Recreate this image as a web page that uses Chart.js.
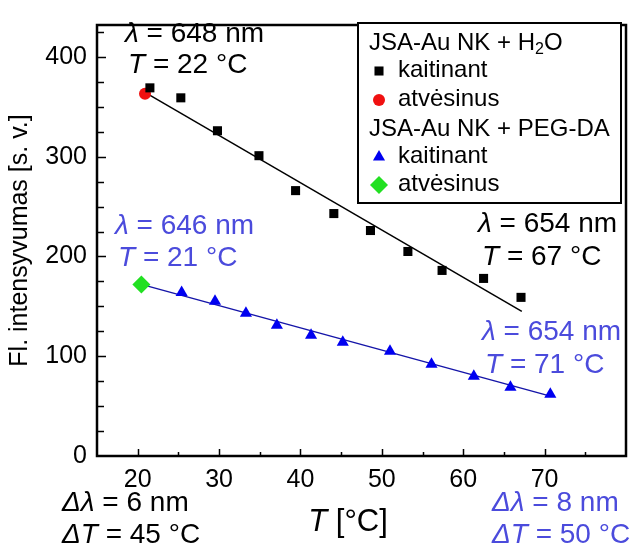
<!DOCTYPE html>
<html>
<head>
<meta charset="utf-8">
<script src="https://cdn.jsdelivr.net/npm/chart.js@4.4.1/dist/chart.umd.min.js"></script>
<style>
  html, body { margin: 0; padding: 0; background: #fff; }
  canvas { display: block; }
</style>
</head>
<body>
<canvas id="plot" width="635" height="546"></canvas>
<script>
const FONT = "'Liberation Sans', Arial, sans-serif";
const BLUE_TEXT = "#4b4bdc";

// JSA-Au NK + H2O
const h2oHeatT = [21.5, 25.3, 29.8, 34.9, 39.4, 44.1, 48.6, 53.2, 57.4, 62.5, 67.1];
const h2oHeatI = [369, 359, 326, 301, 266, 243, 226, 205, 186, 178, 159];
const h2oCoolT = [20.9];
const h2oCoolI = [363];
const h2oFitT = [21.0, 67.2];
const h2oFitI = [364, 145];

// JSA-Au NK + PEG-DA
const pegHeatT = [25.4, 29.5, 33.3, 37.1, 41.3, 45.2, 51.0, 56.1, 61.3, 65.8, 70.7];
const pegHeatI = [164, 155, 143, 131, 121, 114, 105, 92, 80, 69, 62];
const pegCoolT = [20.45];
const pegCoolI = [172];
const pegFitT = [20.9, 70.7];
const pegFitI = [171, 60];

const xTicks = [20, 30, 40, 50, 60, 70];
const yTicks = [0, 100, 200, 300, 400];

function pts(xs, ys) {
  return xs.map((x, i) => ({ x: x, y: ys[i] }));
}

// draw a line of text where some pieces are italic: parts = [[text, italic], ...]
function drawRich(ctx, parts, x, y, size, color, align) {
  ctx.save();
  ctx.fillStyle = color;
  ctx.textBaseline = "middle";
  ctx.textAlign = "left";
  let w = 0;
  parts.forEach(p => {
    ctx.font = (p[1] ? "italic " : "") + size + "px " + FONT;
    w += ctx.measureText(p[0]).width;
  });
  let cx = align === "right" ? x - w : align === "center" ? x - w / 2 : x;
  parts.forEach(p => {
    ctx.font = (p[1] ? "italic " : "") + size + "px " + FONT;
    ctx.fillText(p[0], cx, y);
    cx += ctx.measureText(p[0]).width;
  });
  ctx.restore();
}

const notes = [
  { parts: [["λ", 1], [" = 648 nm", 0]], x: 125, y: 34, color: "#000" },
  { parts: [["T", 1], [" = 22 °C", 0]], x: 128, y: 65, color: "#000" },
  { parts: [["λ", 1], [" = 646 nm", 0]], x: 115, y: 226, color: BLUE_TEXT },
  { parts: [["T", 1], [" = 21 °C", 0]], x: 118, y: 258, color: BLUE_TEXT },
  { parts: [["λ", 1], [" = 654 nm", 0]], x: 478, y: 224, color: "#000" },
  { parts: [["T", 1], [" = 67 °C", 0]], x: 482, y: 257, color: "#000" },
  { parts: [["λ", 1], [" = 654 nm", 0]], x: 482, y: 332, color: BLUE_TEXT },
  { parts: [["T", 1], [" = 71 °C", 0]], x: 485, y: 365, color: BLUE_TEXT },
  { parts: [["Δλ", 1], [" = 6 nm", 0]], x: 62, y: 503, color: "#000" },
  { parts: [["ΔT", 1], [" = 45 °C", 0]], x: 62, y: 535, color: "#000" },
  { parts: [["Δλ", 1], [" = 8 nm", 0]], x: 492, y: 503, color: BLUE_TEXT },
  { parts: [["ΔT", 1], [" = 50 °C", 0]], x: 492, y: 535, color: BLUE_TEXT }
];

// box around the plot with inward ticks
const framePlugin = {
  id: "frame",
  afterDraw(chart) {
    const ctx = chart.ctx;
    const a = chart.chartArea;
    const xs = chart.scales.x, ys = chart.scales.y;
    ctx.save();
    ctx.strokeStyle = "#000";
    ctx.lineWidth = 1.5;
    ctx.beginPath();
    for (let v = 20; v < 80; v += 5) {
      const px = Math.round(xs.getPixelForValue(v)) + 0.5;
      const len = v % 10 === 0 ? 7 : 4;
      ctx.moveTo(px, a.bottom);
      ctx.lineTo(px, a.bottom - len);
    }
    for (let v = 25; v < 432; v += 25) {
      const py = Math.round(ys.getPixelForValue(v)) + 0.5;
      const len = v % 100 === 0 ? 9 : 7;
      ctx.moveTo(a.left, py);
      ctx.lineTo(a.left + len, py);
    }
    ctx.stroke();
    ctx.lineWidth = 2.5;
    ctx.strokeRect(a.left, a.top, a.right - a.left, a.bottom - a.top);
    ctx.restore();
  }
};

const textPlugin = {
  id: "notes",
  afterDraw(chart) {
    const ctx = chart.ctx;
    notes.forEach(n => drawRich(ctx, n.parts, n.x, n.y, 28, n.color, "left"));
    drawRich(ctx, [["T", 1], [" [°C]", 0]], 348, 522, 31, "#000", "center");
  }
};

const legendPlugin = {
  id: "boxLegend",
  afterDraw(chart) {
    const ctx = chart.ctx;
    const ds = chart.data.datasets;
    ctx.save();
    ctx.fillStyle = "#fff";
    ctx.fillRect(358, 23, 263, 180);
    ctx.strokeStyle = "#000";
    ctx.lineWidth = 2;
    ctx.strokeRect(358, 23, 263, 180);
    ctx.fillStyle = "#000";
    ctx.textBaseline = "middle";
    ctx.font = "24px " + FONT;
    ctx.fillText("JSA-Au NK + H", 369, 43);
    let w = ctx.measureText("JSA-Au NK + H").width;
    ctx.font = "16px " + FONT;
    ctx.fillText("2", 369 + w, 50);
    w += ctx.measureText("2").width;
    ctx.font = "24px " + FONT;
    ctx.fillText("O", 369 + w, 43);
    ctx.fillText("JSA-Au NK + PEG-DA", 369, 129);
    const rows = [
      [ds[0], "kaitinant", 70],
      [ds[1], "atvėsinus", 99],
      [ds[3], "kaitinant", 156],
      [ds[4], "atvėsinus", 184]
    ];
    rows.forEach(r => {
      const d = r[0];
      ctx.fillStyle = d.backgroundColor;
      ctx.strokeStyle = d.backgroundColor;
      Chart.helpers.drawPoint(ctx, {
        pointStyle: d.pointStyle,
        radius: d.pointRadius,
        rotation: 0,
        borderWidth: 0
      }, 379, r[2] + 1);
      ctx.fillStyle = "#000";
      ctx.font = "24px " + FONT;
      ctx.fillText(r[1], 398, r[2]);
    });
    ctx.restore();
  }
};

new Chart(document.getElementById("plot"), {
  type: "scatter",
  data: {
    datasets: [
      {
        label: "kaitinant",
        data: pts(h2oHeatT, h2oHeatI),
        pointStyle: "rect",
        pointRadius: 6.4,
        backgroundColor: "#000",
        borderColor: "#000",
        pointBorderWidth: 0,
        order: 1
      },
      {
        label: "atvėsinus",
        data: pts(h2oCoolT, h2oCoolI),
        pointStyle: "circle",
        pointRadius: 6,
        backgroundColor: "#f01010",
        borderColor: "#f01010",
        pointBorderWidth: 0,
        order: 1
      },
      {
        type: "line",
        label: "fit H2O",
        data: pts(h2oFitT, h2oFitI),
        borderColor: "#000",
        borderWidth: 1.5,
        pointRadius: 0,
        order: 2
      },
      {
        label: "kaitinant",
        data: pts(pegHeatT, pegHeatI),
        pointStyle: "triangle",
        pointRadius: 7,
        backgroundColor: "#0000f0",
        borderColor: "#0000f0",
        pointBorderWidth: 0,
        order: 1
      },
      {
        label: "atvėsinus",
        data: pts(pegCoolT, pegCoolI),
        pointStyle: "rectRot",
        pointRadius: 9,
        backgroundColor: "#22e022",
        borderColor: "#22e022",
        pointBorderWidth: 0,
        order: 1
      },
      {
        type: "line",
        label: "fit PEG-DA",
        data: pts(pegFitT, pegFitI),
        borderColor: "#1515a8",
        borderWidth: 1.5,
        pointRadius: 0,
        order: 2
      }
    ]
  },
  options: {
    responsive: false,
    animation: false,
    layout: { padding: { left: 0, top: 15, right: 4, bottom: 0 } },
    plugins: {
      legend: { display: false },
      tooltip: { enabled: false }
    },
    scales: {
      x: {
        type: "linear",
        min: 15,
        max: 80,
        afterBuildTicks: s => { s.ticks = xTicks.map(v => ({ value: v })); },
        afterFit: s => { s.height = 90; },
        grid: { display: false, drawTicks: false },
        border: { display: false },
        ticks: {
          color: "#000",
          padding: 9,
          font: { family: FONT, size: 25 }
        }
      },
      y: {
        type: "linear",
        min: 0,
        max: 432,
        afterBuildTicks: s => { s.ticks = yTicks.map(v => ({ value: v })); },
        afterFit: s => { s.width = 97; },
        grid: { display: false, drawTicks: false },
        border: { display: false },
        ticks: {
          color: "#000",
          padding: 10,
          font: { family: FONT, size: 25 }
        },
        title: {
          display: true,
          text: "Fl. intensyvumas [s. v.]",
          color: "#000",
          font: { family: FONT, size: 25 },
          padding: { top: 5, bottom: 0 }
        }
      }
    }
  },
  plugins: [framePlugin, legendPlugin, textPlugin]
});
</script>
</body>
</html>
